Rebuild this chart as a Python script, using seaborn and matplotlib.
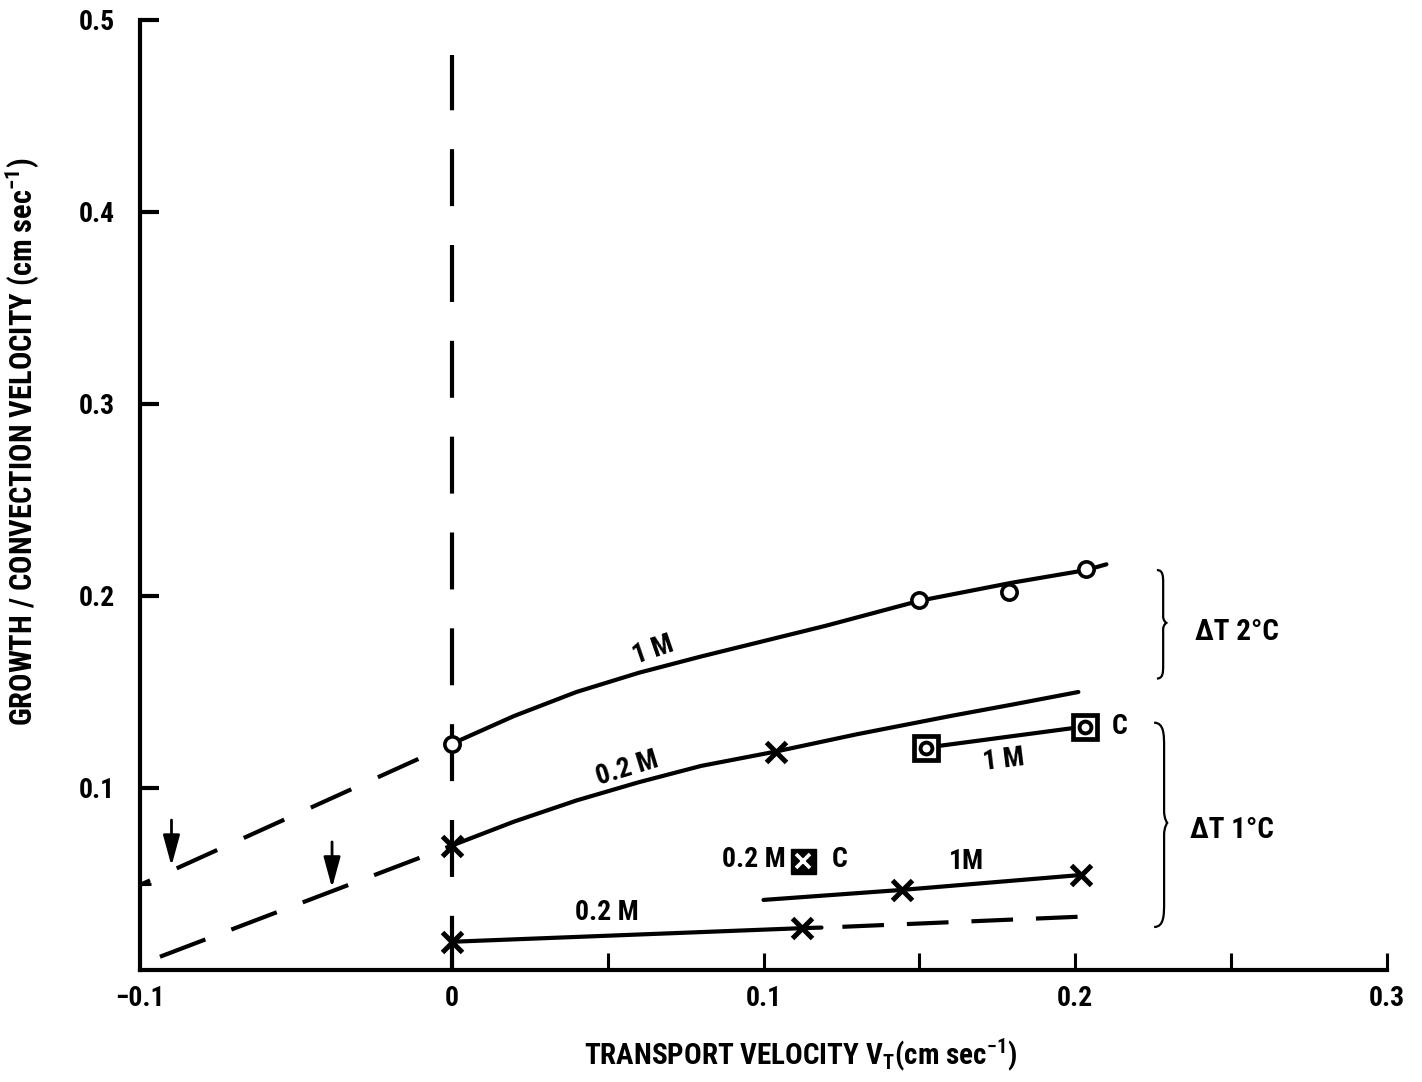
"""Growth / convection velocity vs transport velocity (scanned report figure)."""

import matplotlib

matplotlib.use("Agg")
import matplotlib.pyplot as plt
import seaborn as sns
from matplotlib import font_manager
from matplotlib.patches import PathPatch
from matplotlib.path import Path

# --- data -----------------------------------------------------------------
# dT 2 C, 1 M : fitted curve + open-circle measurements
m1_curve_x = [0.0, 0.02, 0.04, 0.06, 0.08, 0.1, 0.12, 0.15, 0.18, 0.2035, 0.21]
m1_curve_y = [0.123, 0.1375, 0.150, 0.160, 0.1685, 0.1765, 0.1845, 0.1975, 0.207, 0.2135, 0.2165]
m1_pts_x = [0.0, 0.15, 0.1786, 0.2035]
m1_pts_y = [0.123, 0.198, 0.202, 0.214]

# 0.2 M : fitted curve + crosses
m02_curve_x = [0.0, 0.02, 0.04, 0.06, 0.08, 0.104, 0.13, 0.16, 0.18, 0.201]
m02_curve_y = [0.070, 0.0825, 0.0935, 0.103, 0.1115, 0.119, 0.128, 0.1375, 0.1435, 0.150]
m02_pts_x = [0.0, 0.104]
m02_pts_y = [0.070, 0.119]

# dT 1 C, 1 M, convection (boxed circles)
c1m_x = [0.152, 0.203]
c1m_y = [0.121, 0.132]

# dT 1 C, 1 M (crosses)
t1_1m_line_x = [0.1, 0.1443, 0.2019]
t1_1m_line_y = [0.0417, 0.0469, 0.0547]
t1_1m_pts_x = [0.1443, 0.2019]
t1_1m_pts_y = [0.0469, 0.0547]

# dT 1 C, 0.2 M (crosses, solid then dashed)
t1_02_solid_x = [0.0, 0.1125, 0.1186]
t1_02_solid_y = [0.0199, 0.027, 0.0273]
t1_02_dash_x = [0.1253, 0.202]
t1_02_dash_y = [0.0277, 0.033]
t1_02_pts_x = [0.0, 0.1125]
t1_02_pts_y = [0.0199, 0.027]

# 0.2 M convection point (boxed cross)
c02_x = [0.1126]
c02_y = [0.0621]

# dashed extrapolations to negative transport velocity
ext_1m_x = [-0.1, 0.0]
ext_1m_y = [0.0495, 0.123]
ext_02_x = [-0.0936, 0.0]
ext_02_y = [0.0121, 0.070]

# arrows marking the intercepts: x, tail y, tip y
arrow_x = [-0.0899, -0.0384]
arrow_tail = [0.0833, 0.0719]
arrow_tip = [0.0594, 0.048]

# vertical dashed line at V_T = 0
vline_y = [0.0052, 0.482]

x_ticks = [-0.1, 0.0, 0.1, 0.2, 0.3]
x_tick_labels = ["\u22120.1", "0", "0.1", "0.2", "0.3"]
x_minor = [0.05, 0.15, 0.25]
y_ticks = [0.1, 0.2, 0.3, 0.4, 0.5]
y_tick_labels = ["0.1", "0.2", "0.3", "0.4", "0.5"]
y_minor = [0.05]

LW = 3.0


def pick_font():
    """Narrow bold sans if one is installed, else a plain sans."""
    fonts = font_manager.fontManager.ttflist
    names = {f.name for f in fonts}
    for cand in ("Liberation Sans Narrow", "Roboto Condensed", "Open Sans Condensed"):
        if cand in names:
            return [cand, "DejaVu Sans"], "normal"
    if any(f.name == "DejaVu Sans" and f.stretch == "condensed" for f in fonts):
        return ["DejaVu Sans"], "condensed"
    return ["Liberation Sans", "DejaVu Sans"], "normal"


def brace(ax, x0, xb, xt, y_bot, y_mid, y_top):
    """Draw a narrow '}' brace in data coordinates."""
    h = (y_top - y_bot) * 0.06
    verts = [
        (x0, y_top), (xb, y_top), (xb, y_top - h), (xb, y_top - 2 * h),
        (xb, y_mid + h),
        (xb, y_mid + 0.3 * h), (xt, y_mid), (xt, y_mid),
        (xt, y_mid), (xb, y_mid - 0.3 * h), (xb, y_mid - h),
        (xb, y_bot + 2 * h),
        (xb, y_bot + h), (xb, y_bot), (x0, y_bot),
    ]
    codes = [Path.MOVETO, Path.CURVE4, Path.CURVE4, Path.CURVE4,
             Path.LINETO,
             Path.CURVE4, Path.CURVE4, Path.CURVE4,
             Path.CURVE4, Path.CURVE4, Path.CURVE4,
             Path.LINETO,
             Path.CURVE4, Path.CURVE4, Path.CURVE4]
    ax.add_patch(PathPatch(Path(verts, codes), fill=False, lw=1.6, color="black"))


def main() -> None:
    sns.set_theme(style="white")
    family, stretch = pick_font()
    plt.rcParams["font.family"] = family
    plt.rcParams["font.stretch"] = stretch
    plt.rcParams["font.weight"] = "bold"
    plt.rcParams["lines.scale_dashes"] = False
    for key in ("text.color", "axes.labelcolor", "xtick.color", "ytick.color"):
        plt.rcParams[key] = "black"

    fig = plt.figure(figsize=(14.22, 10.82), dpi=100)
    ax = fig.add_axes([140 / 1422, 1 - 970 / 1082, 1247 / 1422, 950 / 1082])

    line_kw = dict(color="black", lw=LW, estimator=None, sort=False, ax=ax)

    # fitted solid curves
    sns.lineplot(x=m1_curve_x, y=m1_curve_y, **line_kw)
    sns.lineplot(x=m02_curve_x, y=m02_curve_y, **line_kw)
    sns.lineplot(x=c1m_x, y=c1m_y, **line_kw)
    sns.lineplot(x=t1_1m_line_x, y=t1_1m_line_y, **line_kw)
    sns.lineplot(x=t1_02_solid_x, y=t1_02_solid_y, **line_kw)

    # dashed pieces
    sns.lineplot(x=t1_02_dash_x, y=t1_02_dash_y, linestyle=(0, (30, 16.5)), **line_kw)
    sns.lineplot(x=ext_1m_x, y=ext_1m_y, linestyle=(24, (32, 21)), **line_kw)
    sns.lineplot(x=ext_02_x, y=ext_02_y, linestyle=(0, (35, 20)), **line_kw)
    ax.plot([0, 0], vline_y, color="black", lw=LW, linestyle=(2, (41, 28)))

    # markers
    ax.plot(m1_pts_x, m1_pts_y, "o", ms=11, mfc="white", mec="black", mew=2.6)
    for xs, ys in [(m02_pts_x, m02_pts_y), (t1_1m_pts_x, t1_1m_pts_y),
                   (t1_02_pts_x, t1_02_pts_y)]:
        ax.plot(xs, ys, "x", ms=14, mec="black", mew=3.6)
    ax.plot(c1m_x, c1m_y, "s", ms=17, mfc="white", mec="black", mew=3.4)
    ax.plot(c1m_x, c1m_y, "o", ms=8.5, mfc="white", mec="black", mew=2.8)
    ax.plot(c02_x, c02_y, "s", ms=18, mfc="black", mec="black", mew=1)
    ax.plot(c02_x, c02_y, "x", ms=10, mec="white", mew=2.6)

    # intercept arrows
    for xa, yt, yh in zip(arrow_x, arrow_tail, arrow_tip):
        ax.annotate("", xy=(xa, yh), xytext=(xa, yt),
                    arrowprops=dict(arrowstyle="-|>,head_length=0.55,head_width=0.15",
                                    mutation_scale=34, lw=2, color="black",
                                    shrinkA=0, shrinkB=0))

    # curve labels
    tkw = dict(fontsize=20, fontweight="bold", va="center", rotation_mode="anchor")
    ax.text(0.0646, 0.172, "1 M", rotation=19, ha="center", **tkw)
    ax.text(0.0563, 0.110, "0.2 M", rotation=17, ha="center", **tkw)
    ax.text(0.177, 0.1146, "1 M", rotation=7, ha="center", **tkw)
    ax.text(0.2118, 0.132, "C", ha="left", **tkw)
    ax.text(0.165, 0.0615, "1M", ha="center", **tkw)
    ax.text(0.0496, 0.0354, "0.2 M", ha="center", **tkw)
    ax.text(0.1072, 0.0625, "0.2 M", ha="right", **tkw)
    ax.text(0.1218, 0.0625, "C", ha="left", **tkw)

    # temperature braces
    brace(ax, 0.2262, 0.2282, 0.2292, 0.157, 0.186, 0.2135)
    brace(ax, 0.2253, 0.2285, 0.2295, 0.0276, 0.0818, 0.134)
    ax.text(0.2385, 0.181, "\u0394T 2\u00b0C", fontsize=21, fontweight="bold",
            ha="left", va="center")
    ax.text(0.2368, 0.078, "\u0394T 1\u00b0C", fontsize=21, fontweight="bold",
            ha="left", va="center")

    # axes styling
    ax.set_xlim(-0.1, 0.3)
    ax.set_ylim(0.0052, 0.5)
    sns.despine(ax=ax)
    for side in ("left", "bottom"):
        ax.spines[side].set_linewidth(3)
        ax.spines[side].set_color("black")
    ax.set_xticks(x_ticks)
    ax.set_xticklabels(x_tick_labels)
    ax.set_xticks(x_minor, minor=True)
    ax.set_yticks(y_ticks)
    ax.set_yticklabels(y_tick_labels)
    ax.set_yticks(y_minor, minor=True)
    ax.tick_params(axis="x", which="both", direction="in", length=12, width=2.2,
                   pad=11, labelsize=20, bottom=True)
    ax.tick_params(axis="y", which="major", direction="in", length=14, width=3,
                   pad=18, labelsize=20, left=True)
    ax.tick_params(axis="y", which="minor", direction="in", length=8, width=2.2,
                   left=True)
    for lab in ax.get_xticklabels() + ax.get_yticklabels():
        lab.set_fontweight("bold")

    ax.set_xlabel(r"TRANSPORT VELOCITY V$_\mathregular{T}$(cm sec$^\mathregular{-1}$)",
                  fontsize=21, fontweight="bold")
    ax.xaxis.label.set_verticalalignment("center")
    ax.xaxis.set_label_coords(0.530, -0.0895)
    ax.set_ylabel(r"GROWTH / CONVECTION VELOCITY (cm sec$^\mathregular{-1}$)",
                  fontsize=22, fontweight="bold")
    ax.yaxis.label.set_verticalalignment("center")
    ax.yaxis.set_label_coords(-0.0946, 0.556)

    fig.savefig("out.png", dpi=100, facecolor="white")
    plt.close(fig)


if __name__ == "__main__":
    main()
